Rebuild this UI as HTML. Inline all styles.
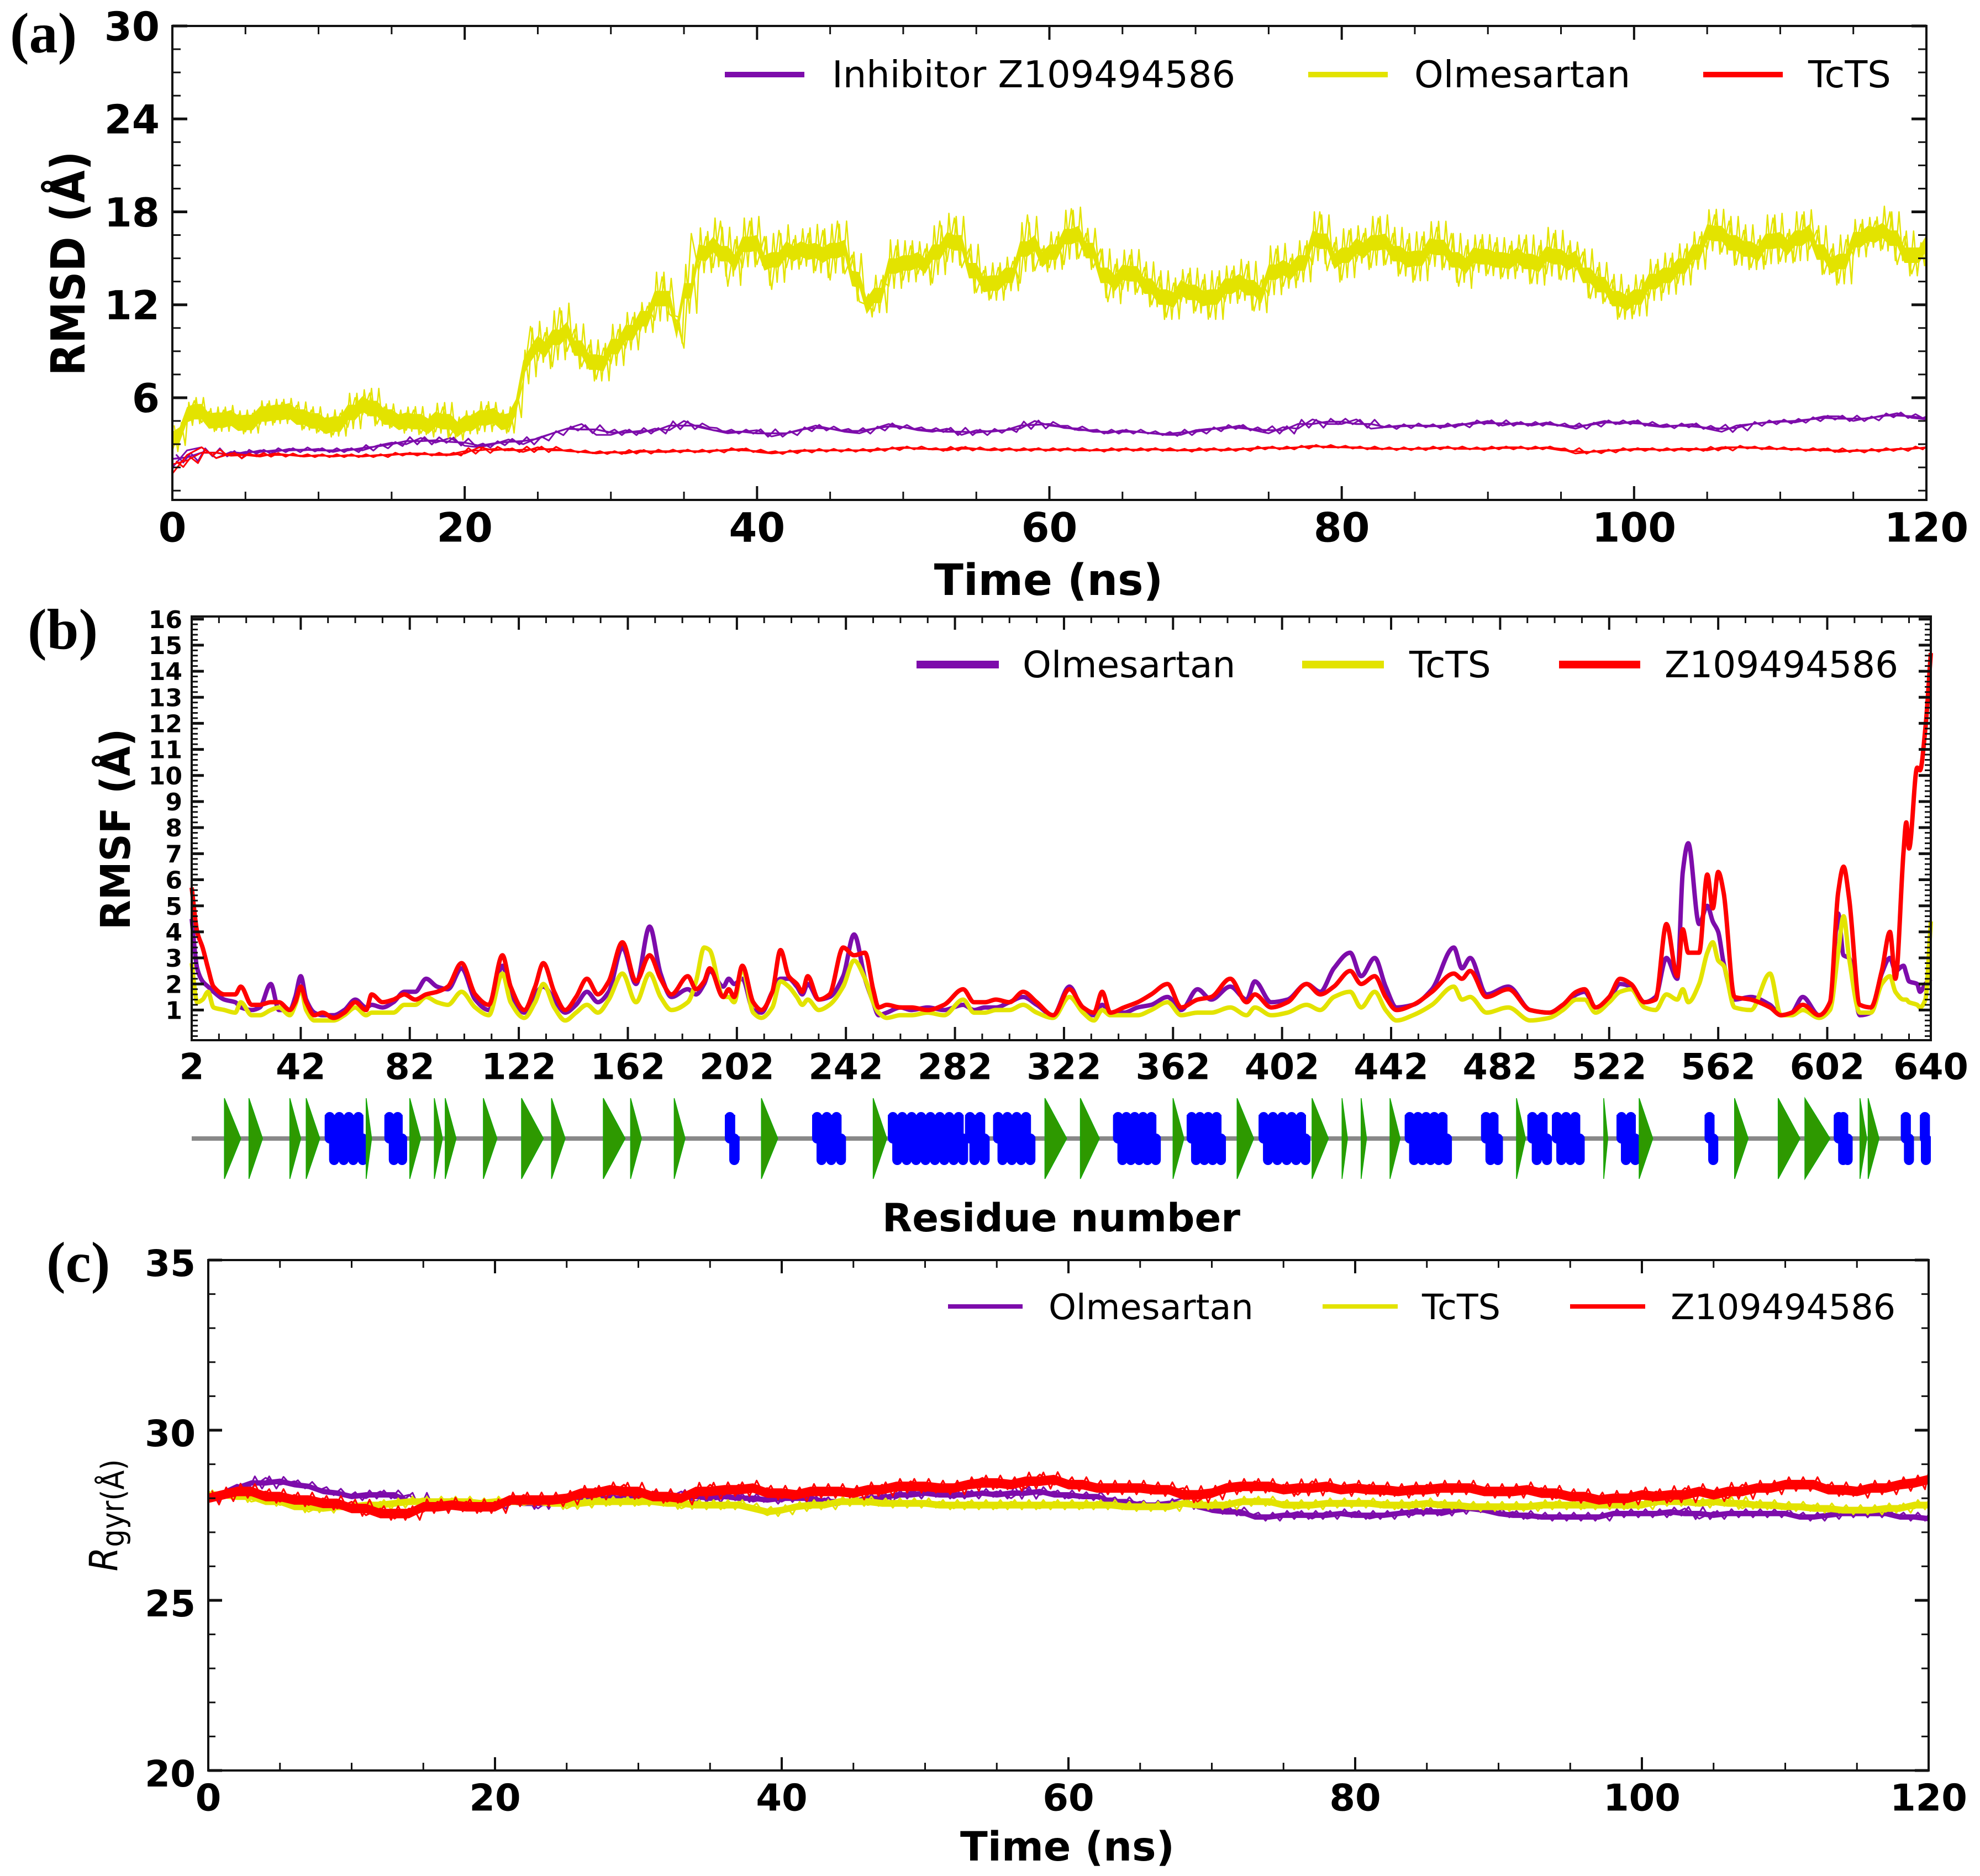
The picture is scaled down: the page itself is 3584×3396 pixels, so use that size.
<!DOCTYPE html>
<html lang="en">
<head>
<meta charset="utf-8">
<title>RMSD, RMSF and radius of gyration</title>
<style>
html,body{margin:0;padding:0;background:#fff;}
svg{display:block;}
text{font-family:"DejaVu Sans","Liberation Sans",sans-serif;fill:#000;}
.tick{font-weight:bold;}
.title{font-weight:bold;}
.panel{font-family:"Liberation Serif",serif;font-weight:bold;font-size:104px;}
</style>
</head>
<body>
<svg id="figure" xmlns="http://www.w3.org/2000/svg" width="3584" height="3396" viewBox="0 0 3584 3396">
<rect width="3584" height="3396" fill="#fff"/>

<text class="panel" x="18" y="95">(a)</text>
<text class="panel" x="50" y="1174">(b)</text>
<text class="panel" x="84" y="2320">(c)</text>

<text class="title" font-size="76" text-anchor="middle" transform="translate(153,477) rotate(-90) scale(1,1.12)">RMSD (Å)</text>
<text class="title" font-size="78" text-anchor="middle" x="1898" y="1077">Time (ns)</text>
<text class="title" font-size="70" text-anchor="middle" transform="translate(235,1501) rotate(-90) scale(1,1.06)">RMSF (Å)</text>
<text class="title" font-size="70.5" text-anchor="middle" x="1921" y="2229">Residue number</text>
<text font-size="64" text-anchor="middle" textLength="203" lengthAdjust="spacingAndGlyphs" transform="translate(212,2743) rotate(-90) scale(1,1.1)"><tspan font-style="italic">R</tspan><tspan font-size="52" dy="11">gyr(Å)</tspan></text>
<text class="title" font-size="73" text-anchor="middle" x="1932" y="3368">Time (ns)</text>

<g font-size="67">
<line x1="1312" x2="1456" y1="135" y2="135" stroke="#7d0cab" stroke-width="10"/>
<text x="1506" y="158">Inhibitor Z109494586</text>
<line x1="2368" x2="2512" y1="135" y2="135" stroke="#e3e300" stroke-width="10"/>
<text x="2560" y="158">Olmesartan</text>
<line x1="3083" x2="3227" y1="135" y2="135" stroke="#ff0000" stroke-width="10"/>
<text x="3273" y="158">TcTS</text>
</g>

<g font-size="66">
<line x1="1659" x2="1808" y1="1203" y2="1203" stroke="#7d0cab" stroke-width="14"/>
<text x="1851" y="1226">Olmesartan</text>
<line x1="2357" x2="2505" y1="1203" y2="1203" stroke="#e3e300" stroke-width="14"/>
<text x="2551" y="1226">TcTS</text>
<line x1="2822" x2="2969" y1="1203" y2="1203" stroke="#ff0000" stroke-width="14"/>
<text x="3013" y="1226">Z109494586</text>
</g>

<g font-size="63.5">
<line x1="1716" x2="1851" y1="2365" y2="2365" stroke="#7d0cab" stroke-width="8"/>
<text x="1898" y="2388">Olmesartan</text>
<line x1="2394" x2="2530" y1="2365" y2="2365" stroke="#e3e300" stroke-width="8"/>
<text x="2574" y="2388">TcTS</text>
<line x1="2842" x2="2978" y1="2365" y2="2365" stroke="#ff0000" stroke-width="8"/>
<text x="3024" y="2388">Z109494586</text>
</g>
</svg>

<script>
// ---------- Panel (a) RMSD data ----------
const rmsdXTicks = [0,20,40,60,80,100,120];
const rmsdYTicks = [6,12,18,24,30];
const rmsdOlmesartan = [
2.6,4.0,4.6,5.8,4.4,5.1,3.9,5.2,4.2,4.9,3.8,5.0,4.3,5.6,4.4,5.7,4.6,5.5,4.0,5.2,
3.8,4.7,3.6,5.0,4.1,6.0,4.9,6.3,4.3,5.4,4.1,4.9,3.9,5.2,3.7,4.6,3.8,5.4,3.5,4.4,
3.8,4.9,3.9,5.5,4.2,5.0,3.8,5.2,7.0,10.6,8.4,10.2,8.0,11.8,9.0,10.4,8.0,9.4,7.2,9.2,
8.2,10.4,9.2,11.2,10.3,11.9,11.0,13.8,11.4,11.0,9.2,16.6,14.2,16.4,14.4,17.4,13.2,16.2,14.4,17.4,
14.6,16.4,13.0,16.8,14.4,16.2,14.6,16.6,14.2,16.8,13.6,17.4,14.0,15.2,12.2,12.0,11.6,13.6,13.2,15.8,
13.6,15.8,14.0,15.6,13.4,17.4,14.8,17.6,14.4,15.6,12.8,14.2,12.4,14.4,13.0,14.8,13.4,17.8,14.2,15.6,
14.4,16.4,14.6,18.2,15.0,16.6,14.4,15.6,12.2,14.6,13.0,15.2,12.8,14.4,12.0,13.8,11.2,13.4,12.2,14.0,
11.6,13.6,11.2,13.8,12.2,14.2,12.4,14.6,11.6,13.6,12.6,15.6,13.2,15.0,13.6,15.8,14.6,18.0,14.2,16.0,
13.6,16.8,14.8,16.6,14.4,17.6,14.6,16.6,14.0,16.2,13.6,16.4,14.6,17.0,14.4,16.6,13.2,15.8,14.2,16.2,
14.0,16.0,13.8,15.8,14.2,16.2,13.4,15.8,14.0,16.6,13.6,15.8,14.2,15.4,12.4,14.4,12.2,13.6,11.2,13.0,
11.4,13.6,12.4,14.6,12.8,15.0,13.4,15.6,14.4,16.4,15.6,17.8,15.4,17.4,14.6,16.8,14.4,16.2,14.6,17.6,
14.8,16.6,14.8,17.8,15.6,16.8,14.0,15.6,13.4,16.2,15.2,17.2,15.8,17.4,15.6,18.0,14.6,16.4,14.0,15.6,
16.4];
const rmsdInhibitor = [
1.5,2.6,2.8,2.1,2.5,2.4,2.6,2.5,2.7,2.6,
2.7,2.5,2.7,2.6,2.9,3.1,3.0,3.4,3.1,3.4,
2.9,2.8,3.0,3.3,3.0,3.4,3.7,4.0,4.3,3.6,
3.6,3.9,3.7,4.0,3.9,4.5,4.1,3.9,3.7,3.8,
3.9,3.5,3.7,3.9,4.2,4.0,3.8,3.7,4.0,4.3,
4.1,3.9,3.8,4.0,3.6,3.9,3.8,3.9,4.0,4.5,
4.2,4.1,3.9,3.9,3.7,3.9,3.8,3.7,3.6,3.6,
3.9,4.0,4.0,4.2,3.9,3.7,4.1,4.0,4.6,4.3,
4.3,4.6,4.0,4.1,4.2,4.2,4.2,4.1,4.3,4.3,
4.5,4.2,4.4,4.2,4.4,4.2,4.0,4.3,4.5,4.3,
4.5,4.2,4.1,4.2,4.3,4.0,3.8,4.2,4.3,4.4,
4.5,4.4,4.6,4.8,4.8,4.5,4.7,4.8,5.0,4.7,
4.6];
const rmsdTcTS = [
1.1,2.3,2.8,2.1,2.4,2.3,2.2,2.4,2.3,2.2,
2.3,2.2,2.3,2.2,2.3,2.3,2.4,2.4,2.3,2.3,
2.4,2.8,2.6,2.7,2.5,2.8,2.6,2.6,2.5,2.4,
2.5,2.4,2.6,2.5,2.5,2.6,2.5,2.6,2.6,2.7,
2.5,2.4,2.5,2.6,2.6,2.6,2.6,2.6,2.6,2.7,
2.8,2.7,2.7,2.6,2.8,2.7,2.6,2.7,2.6,2.7,
2.6,2.7,2.6,2.6,2.6,2.7,2.6,2.7,2.6,2.6,
2.6,2.7,2.6,2.7,2.7,2.8,2.7,2.8,2.9,2.8,
2.8,2.8,2.7,2.7,2.7,2.7,2.7,2.8,2.7,2.7,
2.7,2.8,2.8,2.7,2.8,2.7,2.4,2.5,2.6,2.6,
2.7,2.7,2.6,2.7,2.7,2.6,2.8,2.8,2.8,2.7,
2.7,2.7,2.6,2.7,2.5,2.6,2.6,2.6,2.7,2.7,
2.8];

// ---------- Panel (b) RMSF data ----------
const rmsfXTicks = [2,42,82,122,162,202,242,282,322,362,402,442,482,522,562,602,640];
const rmsfYTicks = [1,2,3,4,5,6,7,8,9,10,11,12,13,14,15,16];
const residues = [
2,4,6,8,10,14,18,20,24,27,
31,34,38,40,42,44,47,50,54,58,
62,66,68,72,76,80,84,88,92,96,
101,106,111,116,119,124,128,131,135,139,
143,147,151,155,160,165,170,174,178,184,
187,190,192,197,199,201,204,208,211,215,
218,221,224,226,228,232,236,241,245,249,
252,254,257,262,266,272,278,285,289,293,
297,302,307,312,318,324,329,333,336,339,
344,349,354,360,365,371,376,383,389,392,
398,404,411,416,421,427,431,436,440,444,
450,457,465,468,471,477,485,493,500,505,
510,513,517,522,526,530,535,539,543,547,
549,551,555,558,560,562,564,568,574,581,
585,589,593,599,603,606,608,610,614,618,
622,625,627,630,631,632,635,636,638,640];
const rmsfOlmesartan = [
4.5,2.6,2.1,1.9,1.7,1.4,1.3,1.1,1.0,1.1,
2.0,1.0,1.0,1.5,2.3,1.4,0.9,0.8,0.8,1.0,
1.4,1.1,1.2,1.1,1.3,1.7,1.7,2.2,1.9,1.8,
2.6,1.4,1.0,2.7,1.6,0.9,1.6,1.9,1.4,0.9,
1.2,1.7,1.3,1.7,3.4,2.0,4.2,2.4,1.5,1.8,
1.6,2.0,2.5,1.9,2.2,2.0,2.2,1.0,0.9,1.7,
2.2,2.2,1.9,1.6,2.0,1.4,1.5,2.3,3.9,2.2,
1.3,0.8,0.9,1.1,1.0,1.1,1.0,1.2,1.0,1.1,
1.1,1.3,1.5,1.2,0.8,1.9,1.0,0.8,1.2,0.9,
0.9,1.1,1.2,1.5,1.0,1.8,1.4,1.9,1.4,2.1,
1.3,1.4,2.0,1.7,2.6,3.2,2.3,3.0,1.9,1.1,
1.2,1.8,3.4,2.6,3.0,1.6,1.9,1.0,0.9,1.2,
1.6,1.7,1.1,1.4,2.0,1.9,1.3,1.5,3.0,2.2,
6.3,7.4,4.3,5.0,4.4,4.0,2.8,1.4,1.5,1.2,
0.8,0.9,1.5,0.8,1.2,4.7,3.1,3.0,0.8,0.9,
2.4,3.0,2.5,2.7,2.4,2.1,2.0,1.7,2.0,2.2];
const rmsfTcTS = [
2.8,1.3,1.4,1.7,1.1,1.0,0.9,1.3,0.8,0.8,
1.0,1.1,0.8,1.2,1.8,1.0,0.6,0.6,0.6,0.8,
1.1,0.8,0.9,0.9,0.9,1.2,1.2,1.5,1.3,1.2,
1.7,1.1,0.8,2.4,1.3,0.7,1.3,2.0,1.1,0.6,
0.9,1.2,0.9,1.4,2.4,1.3,2.4,1.5,1.0,1.3,
2.1,3.4,3.3,1.5,1.5,1.3,2.6,0.9,0.7,1.1,
2.1,1.9,1.5,1.2,1.4,1.0,1.2,1.9,2.9,2.2,
1.3,0.9,0.7,0.8,0.8,0.9,0.8,1.4,0.9,0.9,
1.0,1.0,1.2,0.9,0.7,1.5,0.9,0.6,1.0,0.8,
0.8,0.8,1.0,1.3,0.8,0.9,0.9,1.1,0.8,1.1,
0.8,0.9,1.2,1.0,1.5,1.7,1.1,1.7,1.0,0.6,
0.8,1.2,1.9,1.4,1.5,0.9,1.1,0.6,0.7,1.0,
1.4,1.4,0.9,1.3,1.7,1.8,1.1,1.0,1.6,1.4,
1.8,1.3,2.0,3.2,3.6,2.9,2.7,1.1,1.0,2.4,
0.8,0.8,1.0,0.7,1.0,3.2,4.6,3.0,0.9,0.9,
2.0,2.3,1.7,1.4,1.4,1.3,1.2,1.1,1.4,4.4];
const rmsfZ109494586 = [
5.7,4.0,3.4,2.6,1.9,1.6,1.6,1.9,1.2,1.2,
1.3,1.3,1.0,1.3,1.9,1.3,0.8,0.9,0.7,0.9,
1.3,1.0,1.6,1.3,1.4,1.6,1.4,1.6,1.7,1.9,
2.8,1.6,1.2,3.1,1.9,1.0,1.9,2.8,1.7,1.0,
1.5,2.2,1.6,2.1,3.6,2.1,3.1,2.2,1.6,2.3,
1.8,2.1,2.6,1.5,1.8,1.5,2.7,1.3,1.0,1.7,
3.3,2.3,2.0,1.7,2.3,1.4,1.6,3.4,3.1,3.2,
1.8,1.1,1.2,1.1,1.1,1.0,1.2,1.8,1.3,1.3,
1.4,1.3,1.7,1.3,0.8,1.8,1.1,0.9,1.7,0.9,
1.1,1.3,1.6,2.0,1.1,1.4,1.5,2.2,1.3,1.6,
1.1,1.3,2.0,1.6,1.9,2.5,2.0,2.3,1.5,1.0,
1.2,1.7,2.4,2.2,2.5,1.5,1.8,1.0,0.9,1.2,
1.7,1.8,1.1,1.5,2.2,2.0,1.3,1.4,4.3,2.3,
4.1,3.2,3.2,6.2,4.9,6.3,5.5,1.5,1.4,1.1,
0.8,0.9,1.2,0.8,1.3,5.5,6.5,5.3,1.2,1.1,
2.5,4.0,2.2,7.1,8.2,7.2,10.3,10.2,11.8,14.7];

// ---------- Secondary structure (residue numbers) ----------
const strandStart = [14,23,38,44,66,82,91,95,109,123,134,153,163,179,211,252,315,328,362,385.5,413,424,431,441.6,488,520,533,568,584,593.8,614,617];
const strandEnd   = [20,28,42,49,68,86,94,99,114,131,139,161,167,183,217,257,323,335,366,391.6,419,426,433,445.3,491.3,521.5,538,573,592,603,616.5,621];
const helixStart  = [50.8,72.7,197.6,229.6,257.4,285.7,296,340,367,393.4,447,475,492,501,524.7,557,604.4,629,636];
const helixEnd    = [66.6,81,203,242,286.8,294.7,311.5,357.5,381.4,412.4,464.3,483,501,513,533.4,562,611.3,633.8,640];

// ---------- Panel (c) Rgyr data ----------
const rgyrXTicks = [0,20,40,60,80,100,120];
const rgyrYTicks = [20,25,30,35];
const rgyrOlmesartan = [
27.9,28.2,28.4,28.3,28.6,28.4,28.5,28.3,28.2,28.1,
28.1,28.0,28.2,28.0,28.1,27.7,27.8,27.7,27.9,27.7,
27.9,27.8,28.0,27.7,28.0,27.9,28.1,27.9,28.1,28.0,
27.9,28.2,28.0,28.2,27.9,28.1,28.0,28.1,27.9,28.0,
27.9,28.1,27.9,28.0,27.8,28.0,27.9,28.1,28.0,28.2,
28.1,28.2,28.0,28.2,28.1,28.2,28.0,28.3,28.1,28.2,
28.0,28.1,28.0,28.0,27.8,27.9,27.7,27.9,28.0,27.7,
27.6,27.7,27.5,27.5,27.4,27.5,27.6,27.4,27.6,27.5,
27.6,27.4,27.5,27.6,27.5,27.7,27.5,27.6,27.8,27.6,
27.5,27.6,27.4,27.5,27.5,27.4,27.4,27.5,27.5,27.6,
27.5,27.6,27.5,27.7,27.4,27.6,27.5,27.6,27.5,27.6,
27.5,27.5,27.4,27.5,27.6,27.5,27.6,27.5,27.5,27.4,
27.4];
const rgyrTcTS = [
28.2,28.0,28.2,27.9,28.0,27.8,27.9,27.6,27.8,27.7,
27.8,27.7,27.9,27.8,27.9,28.0,27.8,28.0,27.8,27.9,
27.8,28.0,27.8,27.9,28.0,27.7,27.9,28.0,27.8,28.0,
27.8,27.9,28.0,27.7,27.9,27.8,27.7,27.9,27.7,27.5,
27.7,27.8,27.7,27.9,27.8,28.0,27.8,27.9,27.8,27.9,
27.8,27.9,27.7,27.9,27.8,27.7,27.9,27.8,27.7,27.9,
27.8,27.7,27.9,27.8,27.7,27.8,27.7,27.8,27.8,27.9,
27.7,27.9,27.8,28.0,27.8,27.9,27.7,27.8,27.9,27.8,
27.9,27.8,27.9,27.7,27.9,27.8,27.9,27.7,27.8,27.7,
27.8,27.7,27.8,27.7,27.9,27.8,27.7,27.9,27.8,27.7,
27.9,27.8,28.0,27.8,27.9,27.8,28.0,27.7,27.9,27.7,
27.8,27.7,27.8,27.6,27.7,27.6,27.7,27.6,27.8,27.7,
27.9];
const rgyrZ109494586 = [
27.9,28.1,28.3,28.1,28.2,27.9,28.1,27.8,28.0,27.7,
27.9,27.5,27.7,27.4,27.7,27.6,27.9,27.7,27.9,27.6,
27.9,27.8,28.1,27.8,27.9,28.1,28.0,28.3,28.1,28.4,
28.0,28.2,27.9,28.1,28.0,28.4,28.1,28.4,28.2,28.3,
28.0,28.2,28.1,28.3,28.1,28.2,28.1,28.4,28.2,28.5,
28.2,28.4,28.2,28.4,28.6,28.3,28.5,28.3,28.7,28.4,
28.5,28.3,28.4,28.2,28.4,28.2,28.3,28.2,28.3,27.9,
28.2,28.4,28.2,28.5,28.2,28.4,28.1,28.5,28.2,28.3,
28.2,28.4,28.1,28.3,28.1,28.4,28.2,28.4,28.2,28.3,
28.1,28.3,28.2,28.3,28.0,28.1,28.0,28.0,27.9,28.1,
28.0,28.2,27.9,28.3,28.1,28.2,28.0,28.4,28.2,28.4,
28.3,28.5,28.3,28.4,28.1,28.3,28.2,28.4,28.3,28.5,
28.6];

const PURPLE = '#7d0cab', YELLOW = '#e3e300', RED = '#ff0000', BLUE = '#0000ff', GREEN = '#2e9900';
const NS = 'http://www.w3.org/2000/svg';
const fig = document.getElementById('figure');

function linear(d0, d1, r0, r1) {
  return v => r0 + (v - d0) * (r1 - r0) / (d1 - d0);
}
function svgEl(tag, parent, name) {
  const el = document.createElementNS(NS, tag);
  
  
  parent.appendChild(el);
  return el;
}
function seg(parent, name, x1, y1, x2, y2, w, color) {
  const l = svgEl('line', parent, name);
  l.setAttribute('x1', x1); l.setAttribute('y1', y1);
  l.setAttribute('x2', x2); l.setAttribute('y2', y2);
  l.setAttribute('stroke', color || '#111');
  l.setAttribute('stroke-width', w);
  return l;
}
function label(parent, name, x, y, txt, size, anchor) {
  const t = svgEl('text', parent, name);
  t.setAttribute('class', 'tick');
  t.setAttribute('x', x);
  t.setAttribute('y', y + 0.365 * size);
  t.setAttribute('font-size', size);
  t.setAttribute('text-anchor', anchor);
  t.textContent = txt;
}
function minorSeq(min, max, origin, step) {
  const out = [];
  const k0 = Math.ceil((min - origin) / step - 1e-9);
  for (let k = k0; origin + k * step <= max + 1e-9; k++) out.push(origin + k * step);
  return out;
}

function drawAxes(p) {
  const g = svgEl('g', fig, p.id + '-axes');
  const f = svgEl('rect', g, p.id + '-plot-frame');
  f.setAttribute('x', p.left); f.setAttribute('y', p.top);
  f.setAttribute('width', p.right - p.left); f.setAttribute('height', p.bottom - p.top);
  f.setAttribute('fill', 'none'); f.setAttribute('stroke', '#111'); f.setAttribute('stroke-width', 4);
  minorSeq(p.x.min, p.x.max, p.x.origin, p.x.minor).forEach(v => {
    const x = p.sx(v);
    seg(g, p.id + '-x-minor-tick', x, p.bottom, x, p.bottom - p.minorLenX, 3);
    seg(g, p.id + '-x-minor-tick', x, p.top, x, p.top + p.minorLenX, 3);
  });
  minorSeq(p.y.min, p.y.max, p.y.origin, p.y.minor).forEach(v => {
    const y = p.sy(v);
    seg(g, p.id + '-y-minor-tick', p.left, y, p.left + p.minorLenY, y, 3);
    seg(g, p.id + '-y-minor-tick', p.right, y, p.right - p.minorLenY, y, 3);
  });
  p.x.ticks.forEach(v => {
    const x = p.sx(v);
    seg(g, p.id + '-x-major-tick', x, p.bottom, x, p.bottom - p.majorLenX, 4);
    seg(g, p.id + '-x-major-tick', x, p.top, x, p.top + p.majorLenX, 4);
    label(g, p.id + '-x-tick-label', x, p.xLabelY, String(v), p.xFont, 'middle');
  });
  p.y.ticks.forEach(v => {
    const y = p.sy(v);
    seg(g, p.id + '-y-major-tick', p.left, y, p.left + p.majorLenY, y, 5);
    seg(g, p.id + '-y-major-tick', p.right, y, p.right - p.majorLenY, y, 5);
    label(g, p.id + '-y-tick-label', p.yLabelX, y + (p.yLabelShift || 0), String(v), p.yFont, 'end');
  });
}
// Noisy trajectory: a core band along the local mid-range of the samples, the
// sampled zig-zag, and a denser comb whose amplitude follows each sample's
// deviation, so the band reads as high-frequency noise.
function drawNoisy(p, name, xs, ys, color, width, halfWidth, floorDev, maxDev) {
  const upper = [], lower = [], comb = [];
  ys.forEach((v, i) => {
    const w = [ys[Math.max(0, i - 1)], v, ys[Math.min(ys.length - 1, i + 1)]];
    const m = (Math.min(...w) + Math.max(...w)) / 2;
    upper.push(p.sx(xs[i]).toFixed(1) + ',' + p.sy(m + halfWidth).toFixed(1));
    lower.unshift(p.sx(xs[i]).toFixed(1) + ',' + p.sy(m - halfWidth).toFixed(1));
    const dev = Math.min(maxDev, Math.max(floorDev, Math.abs(v - m) * 1.3));
    const dx = i < ys.length - 1 ? xs[i + 1] - xs[i] : 0;
    comb.push(p.sx(xs[i] + dx * 0.25).toFixed(1) + ',' + p.sy(m + dev).toFixed(1));
    comb.push(p.sx(xs[i] + dx * 0.75).toFixed(1) + ',' + p.sy(m - dev * 0.85).toFixed(1));
  });
  const band = svgEl('polygon', fig, name + '-noise-band');
  band.setAttribute('points', upper.concat(lower).join(' '));
  band.setAttribute('fill', color);
  const mp = svgEl('polyline', fig, name + '-noise');
  mp.setAttribute('points', comb.join(' '));
  mp.setAttribute('fill', 'none');
  mp.setAttribute('stroke', color);
  mp.setAttribute('stroke-width', width);
  mp.setAttribute('stroke-linejoin', 'round');
  const pts = ys.map((v, i) => p.sx(xs[i]).toFixed(1) + ',' + p.sy(v).toFixed(1)).join(' ');
  const pl = svgEl('polyline', fig, name);
  pl.setAttribute('points', pts);
  pl.setAttribute('fill', 'none');
  pl.setAttribute('stroke', color);
  pl.setAttribute('stroke-width', width);
  pl.setAttribute('stroke-linejoin', 'round');
}
// Smooth monotone curve through the samples.
function drawCurve(p, name, xs, ys, color, width) {
  const X = xs.map(p.sx), Y = ys.map(p.sy), n = X.length;
  const d = [];
  for (let i = 0; i < n - 1; i++) d.push((Y[i + 1] - Y[i]) / (X[i + 1] - X[i]));
  const m = new Array(n).fill(0);
  m[0] = d[0]; m[n - 1] = d[n - 2];
  for (let i = 1; i < n - 1; i++) {
    if (d[i - 1] * d[i] > 0) m[i] = 2 * d[i - 1] * d[i] / (d[i - 1] + d[i]);
  }
  let s = 'M' + X[0].toFixed(1) + ' ' + Y[0].toFixed(1);
  for (let i = 0; i < n - 1; i++) {
    const h = (X[i + 1] - X[i]) / 3;
    s += 'C' + (X[i] + h).toFixed(1) + ' ' + (Y[i] + m[i] * h).toFixed(1) + ' ' +
         (X[i + 1] - h).toFixed(1) + ' ' + (Y[i + 1] - m[i + 1] * h).toFixed(1) + ' ' +
         X[i + 1].toFixed(1) + ' ' + Y[i + 1].toFixed(1);
  }
  const path = svgEl('path', fig, name);
  path.setAttribute('d', s);
  path.setAttribute('fill', 'none');
  path.setAttribute('stroke', color);
  path.setAttribute('stroke-width', width);
  path.setAttribute('stroke-linejoin', 'round');
}
function timeAxis(values) {
  return values.map((_, i) => i * 120 / (values.length - 1));
}

// ---------- Panel a ----------
const pa = {id:'rmsd', left:312, right:3487, top:47, bottom:905,
  x:{min:0, max:120, origin:0, minor:5, ticks:rmsdXTicks},
  y:{min:-0.6, max:30, origin:0, minor:1.5, ticks:rmsdYTicks},
  majorLenX:25, minorLenX:15, majorLenY:27, minorLenY:15,
  xLabelY:954, xFont:73, yLabelX:289, yFont:72};
pa.sx = linear(0, 120, pa.left, pa.right);
pa.sy = linear(-0.6, 30, pa.bottom, pa.top);
drawNoisy(pa, 'rmsd-line-inhibitor', timeAxis(rmsdInhibitor), rmsdInhibitor, PURPLE, 3, 0.06, 0.14, 0.28);
drawNoisy(pa, 'rmsd-line-olmesartan', timeAxis(rmsdOlmesartan), rmsdOlmesartan, YELLOW, 2.5, 0.5, 0.8, 1.7);
drawNoisy(pa, 'rmsd-line-tcts', timeAxis(rmsdTcTS), rmsdTcTS, RED, 3, 0.05, 0.1, 0.2);
drawAxes(pa);

// ---------- Panel b ----------
const pb = {id:'rmsf', left:347, right:3495, top:1116, bottom:1883,
  x:{min:2, max:640, origin:2, minor:10, ticks:rmsfXTicks},
  y:{min:-0.157, max:16.1, origin:0, minor:0.2, ticks:rmsfYTicks},
  majorLenX:24, minorLenX:12, majorLenY:22, minorLenY:11,
  xLabelY:1930, xFont:65, yLabelX:330, yFont:44};
pb.sx = linear(2, 640, pb.left, pb.right);
pb.sy = linear(-0.157, 16.1, pb.bottom, pb.top);
drawCurve(pb, 'rmsf-line-olmesartan', residues, rmsfOlmesartan, PURPLE, 8);
drawCurve(pb, 'rmsf-line-tcts', residues, rmsfTcTS, YELLOW, 8);
drawCurve(pb, 'rmsf-line-z109494586', residues, rmsfZ109494586, RED, 8);
drawAxes(pb);

// ---------- Secondary-structure track ----------
(function () {
  const g = svgEl('g', fig, 'secondary-structure-track');
  const mid = 2061, arrowHalf = 73, top = 2022, bot = 2096, period = 16, shift = 8, lobe = 18;
  seg(g, 'backbone-line', pb.left, mid, pb.right, mid, 8, '#888888');
  function halfHelix(h, xa, xb, y1, y2) {
    const n = Math.max(1, Math.round((xb - xa - lobe) / period) + 1);
    const step = n > 1 ? (xb - xa - lobe) / (n - 1) : 0;
    for (let k = 0; k < n; k++) {
      const x = xa + lobe / 2 + k * step;
      const l = seg(h, 'helix-turn', x, y1, x, y2, lobe, BLUE);
      l.setAttribute('stroke-linecap', 'round');
    }
    const r = svgEl('rect', h, 'helix-body');
    r.setAttribute('x', xa);
    r.setAttribute('y', y1 < y2 ? y1 - 4 : y2);
    r.setAttribute('width', Math.max(lobe, xb - xa));
    r.setAttribute('height', Math.abs(y2 - y1) + 4);
    r.setAttribute('fill', BLUE);
  }
  helixStart.forEach((s, i) => {
    const x0 = pb.sx(s), x1 = pb.sx(helixEnd[i]);
    const h = svgEl('g', g, 'helix');
    halfHelix(h, x0, Math.max(x0 + lobe, x1 - shift), top, mid);
    halfHelix(h, Math.min(x1 - lobe, x0 + shift), x1, mid, bot + 4);
  });
  strandStart.forEach((s, i) => {
    const x0 = pb.sx(s), x1 = pb.sx(strandEnd[i]);
    const a = svgEl('polygon', g, 'beta-strand-arrow');
    a.setAttribute('points', [x0, mid - arrowHalf, x1, mid, x0, mid + arrowHalf].join(' '));
    a.setAttribute('fill', GREEN);
    a.setAttribute('stroke', '#12a800');
    a.setAttribute('stroke-width', 1.5);
  });
})();

// ---------- Panel c ----------
const pc = {id:'rgyr', left:377, right:3491, top:2281, bottom:3205,
  x:{min:0, max:120, origin:0, minor:5, ticks:rgyrXTicks},
  y:{min:20, max:35, origin:20, minor:1, ticks:rgyrYTicks},
  majorLenX:24, minorLenX:14, majorLenY:25, minorLenY:13,
  xLabelY:3253, xFont:67, yLabelX:354, yFont:66, yLabelShift:5};
pc.sx = linear(0, 120, pc.left, pc.right);
pc.sy = linear(20, 35, pc.bottom, pc.top);
drawNoisy(pc, 'rgyr-line-olmesartan', timeAxis(rgyrOlmesartan), rgyrOlmesartan, PURPLE, 3, 0.08, 0.13, 0.26);
drawNoisy(pc, 'rgyr-line-tcts', timeAxis(rgyrTcTS), rgyrTcTS, YELLOW, 3, 0.1, 0.15, 0.26);
drawNoisy(pc, 'rgyr-line-z109494586', timeAxis(rgyrZ109494586), rgyrZ109494586, RED, 3, 0.14, 0.22, 0.32);
drawAxes(pc);
</script>
</body>
</html>
